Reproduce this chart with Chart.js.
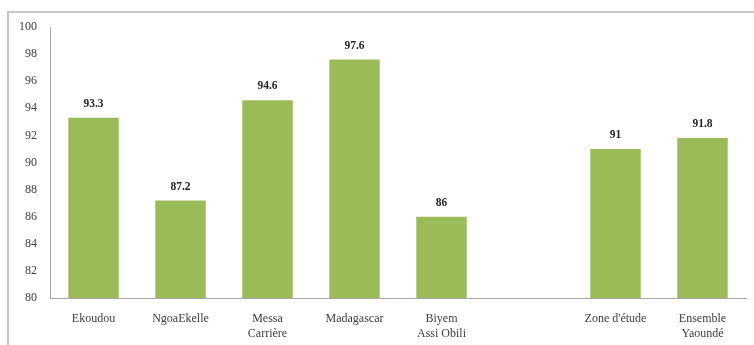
<!DOCTYPE html>
<html>
<head>
<meta charset="utf-8">
<script src="https://cdn.jsdelivr.net/npm/chart.js@4/dist/chart.umd.min.js"></script>
<style>
  html, body { margin: 0; padding: 0; background: #ffffff; }
  #wrap { position: absolute; left: 0; top: 0; width: 754px; height: 345px; }
</style>
</head>
<body>
<div id="wrap"><canvas id="c" width="754" height="345"></canvas></div>
<script>
const categories = ["Ekoudou", "NgoaEkelle", ["Messa", "Carrière"], "Madagascar", ["Biyem", "Assi Obili"], "", "Zone d'étude", ["Ensemble", "Yaoundé"]];
const values = [93.3, 87.2, 94.6, 97.6, 86, null, 91, 91.8];
const valueLabels = ["93.3", "87.2", "94.6", "97.6", "86", "", "91", "91.8"];
const yTicks = [80, 82, 84, 86, 88, 90, 92, 94, 96, 98, 100];

const frame = {
  id: 'frame',
  beforeDraw(chart) {
    const ctx = chart.ctx;
    ctx.save();
    ctx.strokeStyle = '#c9c9c9';
    ctx.lineWidth = 2;
    ctx.beginPath();
    ctx.moveTo(8, 345);
    ctx.lineTo(8, 12);
    ctx.lineTo(754, 12);
    ctx.stroke();
    ctx.restore();
  }
};

const barLabels = {
  id: 'barLabels',
  afterDatasetsDraw(chart) {
    const ctx = chart.ctx;
    const meta = chart.getDatasetMeta(0);
    ctx.save();
    ctx.font = 'bold 11.5px "Liberation Serif", "Times New Roman", serif';
    ctx.fillStyle = '#262626';
    ctx.textAlign = 'center';
    ctx.textBaseline = 'bottom';
    meta.data.forEach((bar, i) => {
      if (values[i] === null) return;
      ctx.fillText(valueLabels[i], bar.x, bar.y - 8);
    });
    ctx.restore();
  }
};

new Chart(document.getElementById('c'), {
  type: 'bar',
  data: {
    labels: categories,
    datasets: [{
      data: values,
      backgroundColor: '#9bbb59',
      borderWidth: 0,
      categoryPercentage: 1,
      barPercentage: 0.58
    }]
  },
  options: {
    responsive: false,
    animation: false,
    devicePixelRatio: 1,
    layout: { padding: { left: 0, right: 8, top: 27, bottom: 0 } },
    plugins: { legend: { display: false }, tooltip: { enabled: false } },
    scales: {
      x: {
        grid: { display: false, drawTicks: false },
        border: { display: true, color: '#a6a6a6', width: 1 },
        ticks: {
          color: '#404040',
          font: { family: '"Liberation Serif", "Times New Roman", serif', size: 12 },
          padding: 14,
          maxRotation: 0,
          autoSkip: false
        },
        afterFit(scale) { scale.height = 47; }
      },
      y: {
        min: 80,
        max: 100,
        afterBuildTicks(scale) { scale.ticks = yTicks.map(v => ({ value: v })); },
        grid: { display: false, drawTicks: false },
        border: { display: true, color: '#a6a6a6', width: 1 },
        ticks: {
          color: '#404040',
          font: { family: '"Liberation Serif", "Times New Roman", serif', size: 12 },
          padding: 13
        },
        afterFit(scale) { scale.width = 50; }
      }
    }
  },
  plugins: [frame, barLabels]
});
</script>
</body>
</html>
